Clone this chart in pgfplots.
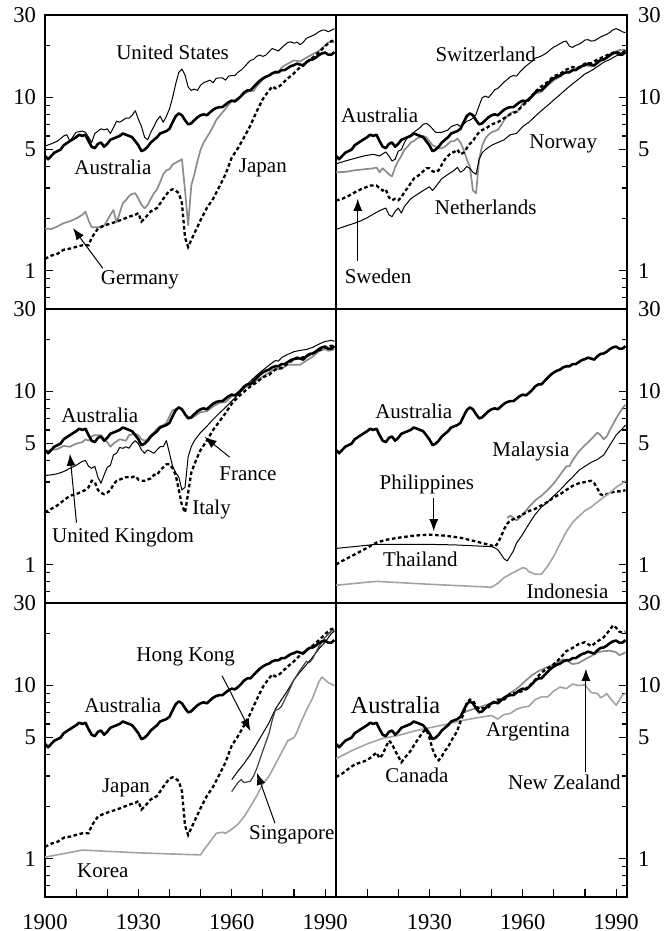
\documentclass[border=0pt]{standalone}
\usepackage{fontspec}
\setmainfont{Liberation Serif}
\usepackage{pgfplots}
\pgfplotsset{compat=1.18}
\usepackage{pgfplotstable}
\usetikzlibrary{arrows.meta}

\definecolor{midgray}{gray}{0.55}
\definecolor{lightgr}{gray}{0.64}

% Australia is drawn in every panel, Japan in two
\pgfplotstableread{
year v
1900 4.6
1901 4.4
1902 4.6
1903 4.8
1905 5.0
1906 5.3
1908 5.6
1910 5.9
1911 6.1
1912 6.0
1913 6.1
1914 5.6
1915 5.2
1916 5.1
1917 5.4
1918 5.5
1919 5.2
1920 5.4
1921 5.7
1922 5.8
1924 6.0
1925 6.2
1926 6.1
1927 6.0
1928 5.9
1929 5.6
1930 5.3
1931 4.9
1932 5.0
1933 5.2
1934 5.5
1935 5.7
1936 5.9
1937 6.2
1938 6.3
1939 6.4
1940 6.6
1941 7.2
1942 7.8
1943 8.1
1944 7.9
1945 7.4
1946 7.0
1947 7.1
1948 7.4
1949 7.7
1950 7.9
1951 8.0
1952 7.9
1953 8.2
1954 8.5
1955 8.7
1956 8.8
1957 8.8
1958 9.1
1959 9.4
1960 9.6
1961 9.5
1962 9.8
1963 10.2
1964 10.7
1965 11.0
1966 11.0
1967 11.5
1968 12.0
1969 12.5
1970 12.9
1971 13.2
1972 13.4
1973 13.8
1974 14.0
1975 14.0
1976 14.4
1977 14.4
1978 14.8
1979 15.2
1980 15.4
1981 15.7
1982 15.5
1983 15.3
1984 16.0
1985 16.5
1986 16.6
1987 17.0
1988 17.6
1989 18.0
1990 18.2
1991 17.7
1992 17.7
1993 18.3
}\aus

\pgfplotstableread{
year v
1900 1.17
1902 1.22
1904 1.25
1906 1.32
1908 1.34
1910 1.37
1912 1.40
1914 1.40
1915 1.55
1917 1.75
1919 1.82
1921 1.87
1923 1.92
1925 1.98
1927 2.05
1929 2.10
1930 2.15
1931 1.92
1932 2.00
1934 2.20
1936 2.30
1938 2.60
1939 2.75
1940 2.90
1941 2.95
1942 2.90
1943 2.80
1944 2.45
1945 1.55
1946 1.37
1947 1.50
1948 1.64
1950 1.96
1952 2.30
1954 2.60
1956 3.05
1958 3.60
1960 4.50
1962 5.10
1964 5.90
1966 6.90
1968 8.30
1970 9.80
1971 10.4
1972 11.0
1973 11.6
1974 11.3
1975 11.5
1976 11.9
1978 12.9
1980 13.8
1982 15.0
1984 16.0
1986 17.0
1988 18.3
1990 19.8
1991 20.6
1992 21.2
1993 21.4
}\jpn

\pgfplotsset{every axis/.append style={
    scale only axis, width=145.5pt, height=147pt,
    xmin=1900, xmax=1993.5, ymin=0.6, ymax=30,
    axis line style={line width=0.7pt},
    ytick={1,5,10,30}, yticklabels={1,5,10,30},
    minor ytick={0.6,0.7,0.8,0.9,2,3,4,6,7,8,9,20},
    major tick length=4pt, minor tick length=2.5pt,
    tick style={black, line width=0.6pt},
    tick label style={font=\fontsize{11.3}{13}\selectfont},
    xticklabel style={yshift=-5pt},
    clip mode=individual}}
\tikzset{
  sAus/.style={black, line width=1.3pt, line join=round},
  sThin/.style={black, line width=0.5pt, line join=round},
  sGrey/.style={midgray, line width=0.85pt, line join=round},
  sLGrey/.style={lightgr, line width=0.8pt, line join=round},
  sDash/.style={black, line width=1.15pt, dash pattern=on 1.8pt off 1.3pt},
  sLab/.style={font=\fontsize{10.5}{12}\selectfont, inner sep=1pt},
  sArr/.style={-{Latex[length=6pt,width=4.5pt]}, line width=0.5pt},
}

\begin{document}
\begin{tikzpicture}
\useasboundingbox (-22.5pt,-17pt) rectangle (311.5pt,448.5pt);

% ---- top left
\begin{axis}[ymode=log, xtick=\empty, ytick pos=left, yticklabel style={xshift=-1pt},
    at={(0pt,294pt)}, anchor=south west]
\addplot[sThin] coordinates {
(1900,5.25) (1902,5.4) (1904,5.6) (1906,6.0) (1907,6.1) (1908,5.6) (1910,6.3)
(1912,6.4) (1913,6.3) (1914,5.9) (1915,5.5) (1916,6.2) (1918,6.6) (1919,6.5)
(1920,6.6) (1921,6.2) (1922,6.7) (1923,7.3) (1924,7.2) (1926,7.6) (1927,7.6)
(1928,7.9) (1929,8.4) (1930,7.5) (1931,6.8) (1932,5.9) (1933,5.7) (1934,6.3)
(1935,6.8) (1936,7.4) (1937,7.8) (1938,7.2) (1939,7.8) (1940,8.6) (1941,10.0)
(1942,12.0) (1943,14.0) (1944,14.6) (1945,13.5) (1946,11.5) (1947,11.0)
(1948,11.2) (1949,11.0) (1950,11.8) (1951,12.2) (1952,12.4) (1953,12.6)
(1954,12.2) (1955,12.9) (1956,13.0) (1957,13.0) (1958,12.6) (1959,13.3)
(1960,13.4) (1961,13.4) (1962,14.0) (1963,14.4) (1964,15.0) (1965,15.7)
(1966,16.4) (1967,16.6) (1968,17.3) (1969,17.6) (1970,17.3) (1971,17.6)
(1972,18.4) (1973,19.2) (1974,18.9) (1975,18.6) (1976,19.4) (1977,20.1)
(1978,20.8) (1979,21.0) (1980,20.6) (1981,20.9) (1982,20.2) (1983,20.9)
(1984,22.0) (1985,22.4) (1986,22.8) (1987,23.3) (1988,24.0) (1989,24.5)
(1990,24.5) (1991,24.0) (1992,24.5) (1993,25.0)};
\addplot[sGrey] coordinates {
(1900,1.75) (1902,1.74) (1904,1.8) (1906,1.88) (1908,1.93) (1910,2.0)
(1912,2.1) (1913,2.19) (1914,1.95) (1915,1.78) (1917,1.78) (1919,1.82)
(1920,1.95) (1921,2.1) (1922,2.24) (1923,1.9) (1924,2.15) (1925,2.45)
(1926,2.55) (1927,2.7) (1928,2.78) (1929,2.8) (1930,2.6) (1931,2.4)
(1932,2.29) (1933,2.4) (1934,2.6) (1935,2.8) (1936,2.95) (1937,3.25)
(1938,3.6) (1939,3.8) (1940,3.85) (1941,4.1) (1942,4.2) (1943,4.3)
(1944,4.4) (1945,2.9) (1946,1.83) (1947,3.1) (1948,3.6) (1949,4.3)
(1950,5.0) (1951,5.5) (1952,5.9) (1953,6.3) (1954,6.8) (1955,7.4)
(1956,7.8) (1957,8.2) (1958,8.6) (1959,9.1) (1960,9.5) (1962,9.9)
(1964,10.5) (1966,11.0) (1967,10.9) (1968,11.6) (1970,12.7) (1972,13.5)
(1974,14.2) (1975,14.0) (1976,14.9) (1978,15.7) (1980,16.4) (1982,16.2)
(1984,17.0) (1986,17.8) (1988,18.6) (1990,20.0) (1991,20.8) (1992,21.0)
(1993,20.8)};
\addplot[sDash] table {\jpn};
\addplot[sAus] table {\aus};
\node[sLab] at (1941,18.2) {United States};
\node[sLab] at (1921.8,3.95) {Australia};
\node[sLab] at (1970,3.9) {Japan};
\node[sLab] at (1930.5,0.89) {Germany};
\draw[sArr] (1918.6,1.03) -- (1909,1.76);
\end{axis}

% ---- top right
\begin{axis}[ymode=log, xtick=\empty, ytick pos=right, yticklabel pos=right,
    yticklabel style={xshift=2pt}, at={(145.5pt,294pt)}, anchor=south west]
\addplot[sThin] coordinates {
(1900,4.14) (1903,4.3) (1906,4.45) (1909,4.6) (1912,4.7) (1914,4.6)
(1916,4.85) (1917,4.6) (1918,4.3) (1919,4.4) (1920,4.9) (1921,5.0)
(1922,5.5) (1923,5.9) (1925,6.3) (1927,6.7) (1928,7.0) (1929,7.1)
(1930,6.9) (1931,6.6) (1932,6.3) (1934,6.3) (1935,6.4) (1936,6.5)
(1937,6.8) (1938,6.9) (1939,7.0) (1940,6.8) (1941,7.0) (1942,7.3)
(1943,7.4) (1944,7.6) (1945,8.0) (1946,9.0) (1947,10.0) (1948,10.2)
(1949,10.0) (1950,10.5) (1951,11.1) (1952,11.3) (1953,11.8) (1954,12.3)
(1955,12.7) (1956,13.2) (1957,13.4) (1958,13.3) (1959,14.0) (1960,14.6)
(1961,15.2) (1962,15.7) (1963,16.2) (1964,16.9) (1965,17.1) (1966,17.4)
(1967,17.8) (1968,18.3) (1969,19.0) (1970,19.6) (1971,20.0) (1972,20.5)
(1973,21.0) (1974,21.2) (1975,19.8) (1976,19.5) (1977,20.0) (1978,20.3)
(1979,20.8) (1980,21.5) (1981,21.6) (1982,21.2) (1983,21.3) (1984,21.8)
(1985,22.4) (1986,22.8) (1987,23.2) (1988,23.8) (1989,24.6) (1990,25.0)
(1991,24.6) (1992,24.0) (1993,23.7)};
\addplot[sGrey] coordinates {
(1900,3.7) (1903,3.72) (1906,3.8) (1909,3.85) (1912,3.9) (1913,3.95)
(1914,3.7) (1915,3.9) (1916,3.75) (1917,3.6) (1918,3.5) (1919,3.95)
(1920,4.3) (1921,4.6) (1922,5.0) (1923,5.2) (1924,5.5) (1925,5.6)
(1926,5.8) (1927,5.9) (1928,6.0) (1929,5.9) (1930,5.6) (1931,5.3)
(1932,5.2) (1933,5.1) (1934,5.1) (1935,5.2) (1936,5.4) (1937,5.6)
(1938,5.6) (1939,5.8) (1940,5.5) (1941,5.0) (1942,4.4) (1943,4.0)
(1944,2.9) (1945,2.8) (1946,4.4) (1947,5.3) (1948,5.8) (1949,6.1)
(1950,6.3) (1951,6.4) (1952,6.5) (1953,6.9) (1954,7.4) (1955,7.8)
(1956,8.1) (1957,8.3) (1958,8.2) (1959,8.6) (1960,9.3) (1962,9.7)
(1964,10.5) (1966,10.8) (1968,11.7) (1970,12.6) (1972,13.2) (1974,14.1)
(1975,13.9) (1976,14.5) (1978,15.0) (1980,15.4) (1982,15.1) (1984,15.7)
(1986,16.6) (1988,17.4) (1990,18.5) (1991,18.8) (1992,18.9) (1993,18.9)};
\addplot[sDash] coordinates {
(1900,2.54) (1902,2.6) (1904,2.7) (1906,2.83) (1908,2.95) (1910,3.05)
(1911,3.1) (1913,3.1) (1914,3.0) (1915,2.9) (1916,2.95) (1917,2.65)
(1918,2.55) (1919,2.6) (1920,2.55) (1921,2.65) (1922,2.85) (1923,3.0)
(1924,3.2) (1925,3.4) (1926,3.5) (1927,3.6) (1928,3.75) (1929,3.9)
(1930,3.9) (1931,3.75) (1932,3.7) (1933,3.8) (1934,4.1) (1935,4.4)
(1936,4.6) (1937,4.8) (1938,4.85) (1939,5.0) (1940,4.7) (1941,4.8)
(1942,5.1) (1943,5.4) (1944,5.6) (1945,6.0) (1946,6.3) (1947,6.5)
(1948,6.6) (1950,7.0) (1952,7.2) (1954,7.6) (1956,8.0) (1958,8.3)
(1960,9.0) (1962,9.7) (1964,10.8) (1966,11.6) (1968,12.3) (1970,13.3)
(1972,13.7) (1974,14.5) (1976,15.0) (1978,14.9) (1980,15.7) (1982,15.8)
(1984,16.6) (1986,17.2) (1988,17.9) (1990,18.4) (1991,18.1) (1992,18.3)
(1993,18.5)};
\addplot[sThin] coordinates {
(1900,1.73) (1902,1.78) (1904,1.83) (1906,1.88) (1908,1.94) (1910,2.02)
(1912,2.12) (1914,2.22) (1916,2.3) (1917,2.1) (1918,2.05) (1919,2.2)
(1920,2.3) (1921,2.15) (1922,2.35) (1924,2.6) (1926,2.75) (1928,2.9)
(1930,3.05) (1931,2.9) (1932,3.05) (1934,3.4) (1936,3.6) (1938,3.8)
(1939,3.95) (1940,3.7) (1941,3.8) (1942,4.0) (1943,3.9) (1944,3.7)
(1945,3.6) (1946,4.4) (1947,4.8) (1948,5.0) (1950,5.3) (1952,5.5)
(1954,5.7) (1956,6.1) (1958,6.2) (1960,6.8) (1962,7.2) (1964,7.8)
(1966,8.4) (1968,9.0) (1970,9.7) (1972,10.4) (1974,11.2) (1976,12.0)
(1978,12.8) (1980,13.7) (1982,14.3) (1984,15.1) (1986,16.0) (1988,16.6)
(1990,17.4) (1992,18.3) (1993,18.8)};
\addplot[sAus] table {\aus};
\node[sLab] at (1948.1,17.7) {Switzerland};
\node[sLab] at (1914,7.9) {Australia};
\node[sLab] at (1973,5.4) {Norway};
\node[sLab] at (1948.1,2.32) {Netherlands};
\node[sLab] at (1913.5,0.93) {Sweden};
\draw[sArr] (1907,1.13) -- (1907,2.6);
\end{axis}

% ---- middle left
\begin{axis}[ymode=log, xtick=\empty, ytick pos=left, yticklabel style={xshift=-1pt},
    at={(0pt,147pt)}, anchor=south west]
\addplot[sGrey] coordinates {
(1900,4.5) (1902,4.6) (1904,4.65) (1906,4.85) (1908,4.8) (1910,5.0)
(1912,5.1) (1913,5.3) (1914,5.2) (1915,5.5) (1916,5.6) (1918,5.6)
(1919,5.3) (1920,5.1) (1921,4.8) (1922,5.0) (1924,5.3) (1926,5.2)
(1927,5.6) (1929,5.7) (1930,5.6) (1931,5.3) (1932,5.2) (1933,5.3)
(1934,5.6) (1935,5.8) (1936,6.1) (1937,6.3) (1938,6.4) (1939,6.6)
(1940,7.2) (1941,7.8) (1942,7.9) (1943,8.1) (1944,7.8) (1945,7.4)
(1946,7.1) (1947,7.0) (1948,7.2) (1949,7.4) (1950,7.6) (1952,7.7)
(1954,8.2) (1956,8.6) (1958,8.7) (1960,9.4) (1962,9.7) (1964,10.5)
(1966,11.0) (1968,11.6) (1970,12.2) (1972,12.9) (1974,13.5) (1976,13.5)
(1978,14.3) (1980,14.3) (1982,14.3) (1984,15.1) (1986,15.9) (1988,17.1)
(1990,17.6) (1991,17.2) (1992,17.3) (1993,17.6)};
\addplot[sThin] coordinates {
(1900,3.27) (1902,3.3) (1904,3.35) (1906,3.45) (1908,3.6) (1910,3.75)
(1912,3.95) (1913,4.0) (1914,3.7) (1915,3.6) (1916,3.7) (1917,3.2)
(1918,2.95) (1919,3.3) (1920,3.65) (1921,3.75) (1922,4.3) (1923,4.4)
(1924,4.75) (1925,4.7) (1926,4.8) (1927,4.7) (1928,5.0) (1929,5.2)
(1930,5.0) (1931,4.6) (1932,4.4) (1933,4.6) (1934,4.5) (1935,4.4)
(1936,4.6) (1937,4.8) (1938,4.8) (1939,5.2) (1940,4.4) (1941,3.7)
(1942,3.4) (1943,3.2) (1944,2.7) (1945,2.8) (1946,4.2) (1947,4.8)
(1948,5.2) (1950,5.8) (1952,6.3) (1954,6.9) (1956,7.5) (1958,8.1)
(1960,8.8) (1962,9.6) (1964,10.5) (1966,11.5) (1968,12.4) (1970,13.3)
(1972,14.2) (1974,15.1) (1975,15.0) (1976,15.7) (1978,16.4) (1980,17.0)
(1982,17.3) (1984,17.5) (1986,18.0) (1988,18.8) (1990,19.5) (1991,19.6)
(1992,19.8) (1993,19.5)};
\addplot[sDash] coordinates {
(1900,2.0) (1902,2.1) (1904,2.2) (1906,2.35) (1908,2.5) (1910,2.55)
(1912,2.65) (1913,2.7) (1914,2.8) (1915,3.05) (1916,3.0) (1917,2.7)
(1918,2.6) (1919,2.55) (1920,2.6) (1921,2.7) (1922,2.9) (1923,3.05)
(1924,3.1) (1926,3.2) (1928,3.2) (1929,3.25) (1930,3.1) (1931,3.05)
(1932,3.05) (1934,3.15) (1935,3.3) (1936,3.3) (1937,3.5) (1938,3.65)
(1939,3.8) (1940,3.8) (1941,3.6) (1942,3.3) (1943,2.7) (1944,2.2)
(1945,2.0) (1946,2.6) (1947,3.4) (1948,3.8) (1949,4.2) (1950,4.6)
(1952,5.2) (1954,6.0) (1956,6.7) (1958,7.5) (1960,8.5) (1962,9.3)
(1964,10.0) (1966,10.7) (1968,11.3) (1970,12.1) (1972,12.5) (1974,13.4)
(1976,13.7) (1978,14.5) (1980,15.4) (1982,15.6) (1984,16.0) (1986,16.6)
(1988,17.3) (1990,18.0) (1992,18.4) (1993,18.3)};
\addplot[sAus] table {\aus};
\node[sLab] at (1917.6,7.3) {Australia};
\node[sLab] at (1965.2,3.34) {France};
\node[sLab] at (1953.5,2.09) {Italy};
\node[sLab] at (1925.1,1.43) {United Kingdom};
\draw[sArr] (1910.1,1.75) -- (1908,4.37);
\draw[sArr] (1959.3,4.18) -- (1951.3,5.47);
\end{axis}

% ---- middle right
\begin{axis}[ymode=log, xtick=\empty, ytick pos=right, yticklabel pos=right,
    yticklabel style={xshift=2pt}, at={(145.5pt,147pt)}, anchor=south west]
\addplot[sGrey] coordinates {
(1955,1.86) (1956,1.92) (1957,1.86) (1958,1.80) (1959,1.86) (1960,1.95)
(1962,2.15) (1964,2.35) (1966,2.5) (1968,2.7) (1970,2.95) (1972,3.3)
(1974,3.7) (1975,3.7) (1976,4.0) (1978,4.5) (1980,4.9) (1982,5.3)
(1984,5.8) (1985,5.6) (1986,5.3) (1987,5.5) (1988,6.0) (1990,7.0)
(1992,8.0) (1993,8.4)};
\addplot[sThin] coordinates {
(1900,1.24) (1913,1.31) (1929,1.31) (1938,1.30) (1950,1.27) (1951,1.25)
(1952,1.22) (1953,1.15) (1954,1.08) (1955,1.05) (1956,1.12) (1957,1.2)
(1958,1.33) (1960,1.5) (1962,1.72) (1964,1.95) (1966,2.15) (1968,2.3)
(1970,2.5) (1972,2.7) (1974,2.95) (1976,3.2) (1978,3.5) (1980,3.7)
(1982,3.9) (1984,4.05) (1986,4.3) (1988,4.9) (1990,5.6) (1992,6.1)
(1993,6.4)};
\addplot[sDash] coordinates {
(1900,1.0) (1902,1.05) (1905,1.12) (1910,1.25) (1913,1.34) (1916,1.39)
(1920,1.43) (1925,1.47) (1930,1.49) (1935,1.47) (1940,1.43) (1945,1.36)
(1950,1.29) (1951,1.27) (1952,1.33) (1953,1.45) (1954,1.6) (1955,1.72)
(1956,1.8) (1958,1.86) (1960,1.95) (1962,2.04) (1964,2.1) (1966,2.2)
(1968,2.3) (1970,2.45) (1972,2.55) (1974,2.7) (1976,2.85) (1978,2.95)
(1980,3.0) (1982,3.05) (1983,2.95) (1984,2.75) (1985,2.55) (1986,2.5)
(1988,2.6) (1990,2.65) (1992,2.65) (1993,2.7)};
\addplot[sLGrey] coordinates {
(1900,0.76) (1913,0.80) (1930,0.77) (1950,0.74) (1952,0.78) (1954,0.84)
(1956,0.88) (1958,0.92) (1960,0.96) (1961,0.95) (1962,0.91) (1964,0.88)
(1966,0.88) (1968,0.98) (1970,1.12) (1972,1.32) (1974,1.55) (1976,1.75)
(1978,1.9) (1980,2.05) (1982,2.15) (1984,2.3) (1986,2.45) (1988,2.6)
(1990,2.8) (1992,2.95) (1993,3.05)};
\addplot[sAus] table {\aus};
\node[sLab] at (1925,7.73) {Australia};
\node[sLab] at (1962.6,4.53) {Malaysia};
\node[sLab] at (1929.2,2.9) {Philippines};
\draw[sArr] (1931.4,2.43) -- (1931.4,1.56);
\node[sLab] at (1927.1,1.07) {Thailand};
\node[sLab] at (1974.4,0.70) {Indonesia};
\end{axis}

% ---- bottom left
\begin{axis}[ymode=log, ytick pos=left, yticklabel style={xshift=-1pt},
    xtick={1900,1910,...,1990}, xticklabels={1900,,,1930,,,1960,,,1990},
    xtick pos=bottom, at={(0pt,0pt)}, anchor=south west]
\addplot[sLGrey] coordinates {
(1900,1.02) (1912,1.12) (1930,1.08) (1950,1.05) (1951,1.12) (1953,1.25)
(1955,1.4) (1957,1.42) (1958,1.4) (1960,1.48) (1962,1.58) (1964,1.75)
(1966,2.0) (1968,2.3) (1970,2.7) (1972,3.0) (1974,3.5) (1976,4.1)
(1978,4.8) (1980,5.0) (1981,5.4) (1982,6.0) (1984,7.2) (1986,8.5)
(1988,10.5) (1989,11.2) (1990,10.8) (1991,10.4) (1992,10.2) (1993,10.0)};
\addplot[sThin] coordinates {
(1960,2.86) (1962,3.2) (1964,3.55) (1966,4.0) (1968,4.6) (1970,5.3)
(1972,6.1) (1974,7.3) (1976,8.3) (1978,9.4) (1980,10.8) (1982,12.0)
(1984,13.2) (1986,14.6) (1988,16.3) (1990,17.8) (1992,20.0) (1993,20.6)};
\addplot[black!75, line width=0.6pt] coordinates {
(1960,2.44) (1962,2.75) (1963,2.86) (1964,2.75) (1966,2.8) (1967,3.0)
(1968,3.3) (1970,4.2) (1972,5.3) (1973,6.3) (1974,7.2) (1975,7.3)
(1976,7.6) (1978,9.0) (1980,10.8) (1982,12.3) (1984,13.8) (1985,13.6)
(1986,14.3) (1988,16.8) (1990,19.0) (1992,20.6) (1993,21.0)};
\addplot[sDash] table {\jpn};
\addplot[sAus] table {\aus};
\node[sLab] at (1945.2,14.6) {Hong Kong};
\draw[sArr] (1956.9,11.4) -- (1966,5.47);
\node[sLab] at (1925,7.65) {Australia};
\node[sLab] at (1926,2.56) {Japan};
\node[sLab] at (1979.3,1.37) {Singapore};
\draw[sArr] (1973.9,1.6) -- (1968.1,3.13);
\node[sLab] at (1918.6,0.855) {Korea};
\end{axis}

% ---- bottom right
\begin{axis}[ymode=log, ytick pos=right, yticklabel pos=right, yticklabel style={xshift=2pt},
    xtick={1900,1910,...,1990}, xticklabels={,,,1930,,,1960,,,1990},
    xtick pos=bottom, at={(145.5pt,0pt)}, anchor=south west]
\addplot[sLGrey] coordinates {
(1900,3.78) (1905,4.2) (1910,4.6) (1915,4.95) (1920,5.15) (1925,5.45)
(1930,5.7) (1935,5.95) (1940,6.25) (1945,6.5) (1950,6.71) (1952,6.4)
(1954,6.8) (1956,6.9) (1958,7.3) (1960,7.5) (1962,7.6) (1964,8.3)
(1966,8.6) (1968,8.6) (1970,9.3) (1972,9.8) (1974,9.6) (1976,10.2)
(1978,10.0) (1980,10.1) (1982,9.1) (1984,9.0) (1985,8.5) (1986,8.7)
(1987,9.0) (1988,8.5) (1990,7.7) (1991,8.2) (1992,8.8) (1993,9.0)};
\addplot[sGrey] coordinates {
(1939,6.4) (1941,7.0) (1943,7.2) (1945,7.4) (1947,7.6) (1949,7.8)
(1951,8.0) (1953,8.3) (1955,8.8) (1957,9.3) (1959,9.9) (1961,10.7)
(1963,11.5) (1965,12.1) (1967,12.6) (1969,13.0) (1971,13.6) (1973,14.2)
(1974,14.0) (1976,13.3) (1978,13.5) (1980,14.2) (1982,14.8) (1984,15.6)
(1986,15.8) (1988,15.9) (1990,15.6) (1991,15.0) (1992,15.2) (1993,15.6)};
\addplot[sDash] coordinates {
(1900,2.96) (1902,3.1) (1904,3.3) (1906,3.5) (1908,3.6) (1910,3.7)
(1912,3.95) (1913,4.1) (1914,3.8) (1915,4.0) (1916,4.4) (1917,4.8)
(1918,4.6) (1919,4.2) (1920,3.9) (1921,3.6) (1922,3.8) (1923,4.0)
(1924,4.2) (1925,4.5) (1926,4.8) (1927,5.1) (1928,5.4) (1929,5.6)
(1930,5.0) (1931,4.3) (1932,3.9) (1933,3.7) (1934,3.9) (1935,4.2)
(1936,4.4) (1937,4.8) (1938,5.1) (1939,5.5) (1940,6.2) (1941,6.9)
(1942,7.9) (1943,8.3) (1944,8.2) (1945,7.6) (1946,7.3) (1947,7.4)
(1948,7.4) (1949,7.5) (1950,7.9) (1952,8.3) (1954,8.3) (1956,9.0)
(1958,9.1) (1960,9.3) (1962,9.9) (1964,10.8) (1966,11.9) (1968,12.6)
(1970,13.3) (1972,14.4) (1974,15.8) (1976,16.5) (1978,17.4) (1980,17.8)
(1982,16.9) (1984,18.0) (1986,19.0) (1988,21.0) (1989,22.3) (1990,21.6)
(1991,20.5) (1992,20.3) (1993,20.5)};
\addplot[sAus] table {\aus};
\node[sLab, font=\fontsize{12.2}{14}\selectfont] at (1919.1,7.67) {Australia};
\node[sLab] at (1961.7,5.38) {Argentina};
\node[sLab] at (1926,3.03) {Canada};
\node[sLab] at (1973.4,2.77) {New Zealand};
\draw[sArr] (1980.3,3.16) -- (1980.3,12.5);
\end{axis}
\end{tikzpicture}
\end{document}
